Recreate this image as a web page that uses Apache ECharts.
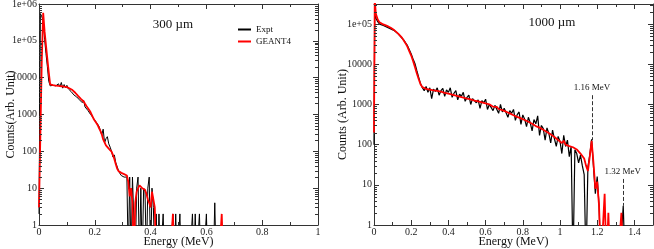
<!DOCTYPE html>
<html><head><meta charset="utf-8">
<script src="https://cdn.jsdelivr.net/npm/echarts@6/dist/echarts.min.js"></script>
<style>html,body{margin:0;padding:0;background:#fff}#c{width:654px;height:249px}</style>
</head><body><div id="c"></div>
<script>
// ---------- DATA ----------
// 300 um panel: channels every 0.005 MeV starting at 0 MeV (0 = empty channel)
const step300 = 0.005;
const expt300 = [
  2, 550000, 450000, 350000, 110000, 45000, 20000, 8000, 6000, 5800,
  6200, 5600, 6000, 5500, 6800, 5600, 7400, 5200, 6500, 5400,
  6200, 5000, 4800, 4200, 4000, 3400, 3600, 3000, 2900, 2500,
  2600, 2100, 2400, 1600, 1700, 1300, 1400, 1000, 1100, 800,
  900, 620, 700, 480, 520, 280, 400, 170, 220, 250,
  160, 130, 100, 70, 80, 50, 45, 30, 25, 22,
  22, 20, 21, 20, 0, 20, 0, 20, 20, 0,
  10, 20, 0, 10, 0, 10, 8, 0, 10, 20,
  0, 10, 3, 0, 2, 0, 2, 0, 0, 2,
  0, 0, 0, 0, 0, 0, 2, 0, 2, 0,
  0, 2, 0, 0, 0, 0, 0, 0, 0, 0,
  2, 0, 2, 0, 0, 2, 0, 0, 0, 0,
  2, 0, 0, 0, 0, 0, 4, 0, 0, 0,
  0, 0, 0
];
const geant300 = [
  3, 300, 30000, 580000, 180000, 76000, 32000, 14000, 6600, 6400,
  6300, 6200, 6100, 6000, 5950, 5900, 5850, 5800, 5700, 5650,
  5550, 5300, 5100, 4900, 4600, 4200, 3900, 3600, 3200, 2900,
  2650, 2450, 2250, 1950, 1700, 1500, 1320, 1150, 950, 780,
  680, 600, 520, 430, 360, 290, 210, 175, 145, 130,
  118, 108, 98, 80, 62, 45, 34, 29, 27, 26,
  25, 24, 23, 22, 15, 6, 10, 4, 0, 4,
  8, 9, 12, 11, 10, 10, 9, 7, 5, 4,
  3, 8, 8, 3, 0, 0, 0, 0, 0, 0,
  0, 0, 0, 0, 0, 0, 2, 0, 0, 0,
  0, 0, 0, 0, 0, 0, 0, 0, 0, 0,
  0, 0, 0, 0, 0, 0, 0, 0, 0, 0,
  0, 0, 0, 0, 0, 0, 0, 0, 0, 0,
  0, 2, 0
];
// 1000 um panel: first points near 0 MeV, then channels every 0.01 MeV from 0.01 MeV
const head1000Expt = [[0, 100], [0.004, 300000]];
const head1000Geant = [[0, 200], [0.004, 400000]];
const start1000 = 0.01, step1000 = 0.01;
const expt1000 = [
  140000, 115000, 100000, 95000, 92000, 88000, 84000, 82000, 76000, 72000,
  68000, 61000, 57000, 51000, 45000, 40000, 34000, 29000, 23000, 18000,
  13500, 10500, 7000, 4800, 3300, 2600, 2200, 2800, 2000, 2600,
  1400, 2400, 2100, 2600, 1700, 2200, 2500, 1600, 2300, 2000,
  2600, 1500, 1900, 2200, 1300, 1800, 1600, 2000, 1200, 1500,
  1700, 1000, 1400, 1550, 1100, 1300, 800, 1250, 1100, 1350,
  750, 1000, 1100, 700, 950, 900, 600, 1000, 650, 800,
  850, 480, 700, 600, 750, 400, 560, 650, 320, 550,
  430, 280, 480, 350, 220, 420, 330, 520, 170, 300,
  250, 130, 260, 190, 110, 230, 140, 90, 160, 120,
  60, 170, 90, 130, 50, 90, 0, 75, 60, 35,
  55, 30, 18, 0, 28, 55, 135, 28, 6, 16,
  3, 0, 0, 0, 0, 0, 0, 0, 0, 0,
  0, 0, 0, 3, 0
];
const geant1000 = [
  180000, 130000, 110000, 102000, 98000, 94000, 90000, 86000, 81000, 76000,
  70000, 64000, 58000, 52000, 46000, 39000, 33000, 27000, 21000, 16500,
  12000, 8500, 6000, 4300, 3200, 2700, 2500, 2450, 2400, 2350,
  2300, 2250, 2200, 2180, 2120, 2080, 2000, 1950, 1900, 1850,
  1800, 1750, 1720, 1650, 1620, 1560, 1520, 1480, 1450, 1400,
  1360, 1330, 1260, 1250, 1180, 1200, 1100, 1130, 1040, 1060,
  960, 1010, 920, 880, 850, 870, 770, 810, 720, 740,
  660, 690, 600, 610, 540, 570, 490, 520, 450, 470,
  410, 430, 370, 380, 330, 340, 290, 310, 265, 280,
  235, 245, 205, 215, 180, 190, 155, 165, 130, 140,
  110, 125, 100, 112, 92, 102, 86, 96, 76, 82,
  60, 66, 45, 30, 22, 50, 125, 35, 8, 12,
  3, 0, 0, 6, 0, 2, 0, 0, 0, 0,
  0, 0, 2, 0, 0
];
const peak116 = { label: '1.16 MeV', e: 1.172, top: 1700, bottom: 130 };
const peak132 = { label: '1.32 MeV', e: 1.338, top: 14, bottom: 3 };
const xTicksLeft = { min: 0, max: 1, interval: 0.2 };
const xTicksRight = { min: 0, max: 1.5, interval: 0.2 };
const yRangeLeft = { min: 1, max: 1e6 };
const yRangeRight = { min: 1, max: 316000 };

// ---------- BUILD ----------
const FLOOR = 0.1; // empty channel -> drawn below axis (clipped)
function pairs(head, start, step, counts) {
  const out = head.map(p => [p[0], p[1] > 0 ? p[1] : FLOOR]);
  counts.forEach((c, i) => out.push([+(start + i * step).toFixed(4), c > 0 ? c : FLOOR]));
  return out;
}
function minorVals(max) {
  const v = [];
  for (let k = 0; k < 7; k++) for (let m = 2; m <= 9; m++) { const x = m * Math.pow(10, k); if (x < max) v.push([0, x]); }
  return v;
}
const FONT = '"Liberation Serif", "DejaVu Serif", serif';
const AX = '#333';
function fmtLog(v) {
  const l = Math.log10(v), e = Math.round(l);
  if (Math.abs(l - e) > 1e-6) return '';
  return e >= 5 ? '1e+0' + e : String(Math.round(v));
}
function minorRender(params, api) {
  const cs = params.coordSys;
  const y = Math.round(api.coord([api.value(0), api.value(1)])[1]) + 0.5;
  const len = 3;
  return { type: 'group', children: [
    { type: 'line', shape: { x1: cs.x, y1: y, x2: cs.x + len, y2: y }, style: { stroke: AX, lineWidth: 1 } },
    { type: 'line', shape: { x1: cs.x + cs.width - len, y1: y, x2: cs.x + cs.width, y2: y }, style: { stroke: AX, lineWidth: 1 } }
  ]};
}
function xAxes(idx, r) {
  const base = { type: 'value', gridIndex: idx, min: r.min, max: r.max, interval: r.interval,
    axisLine: { show: true, onZero: false, lineStyle: { color: AX, width: 1 } },
    axisTick: { show: true, inside: true, length: 5, lineStyle: { color: AX } },
    minorTick: { show: true, splitNumber: 2, length: 3, lineStyle: { color: AX } },
    splitLine: { show: false } };
  return [
    Object.assign({}, base, { position: 'bottom', name: 'Energy (MeV)', nameLocation: 'middle', nameGap: 11,
      nameMoveOverlap: false,
      nameTextStyle: { fontFamily: FONT, fontSize: 12, color: '#111' },
      axisLabel: { show: true, margin: 2, fontFamily: FONT, fontSize: 10, color: '#222', showMaxLabel: r.max === 1 } }),
    Object.assign({}, base, { position: 'top', axisLabel: { show: false } })
  ];
}
function yAxes(idx, r, name, gap) {
  const base = { type: 'log', logBase: 10, gridIndex: idx, min: r.min, max: r.max, splitNumber: 6,
    axisLine: { show: true, onZero: false, lineStyle: { color: AX, width: 1 } },
    axisTick: { show: true, inside: true, length: 5, lineStyle: { color: AX } },
    splitLine: { show: false } };
  return [
    Object.assign({}, base, { position: 'left', name: name, nameLocation: 'middle', nameGap: gap,
      nameMoveOverlap: false,
      nameTextStyle: { fontFamily: FONT, fontSize: 12, color: '#111' },
      axisLabel: { show: true, margin: 2, fontFamily: FONT, fontSize: 10, color: '#222', formatter: fmtLog } }),
    Object.assign({}, base, { position: 'right', axisLabel: { show: false } })
  ];
}

const chart = echarts.init(document.getElementById('c'), null, { renderer: 'canvas' });
chart.setOption({
  animation: false,
  backgroundColor: '#fff',
  grid: [
    { left: 39, top: 4, width: 279, height: 221, containLabel: false, outerBoundsMode: 'none' },
    { left: 374, top: 4, width: 279, height: 221, containLabel: false, outerBoundsMode: 'none' }
  ],
  xAxis: [].concat(xAxes(0, xTicksLeft), xAxes(1, xTicksRight)),
  yAxis: [].concat(yAxes(0, yRangeLeft, 'Counts(Arb. Unit)', 22), yAxes(1, yRangeRight, 'Counts (Arb. Unit)', 25)),
  legend: { data: ['Expt', 'GEANT4'], orient: 'vertical', left: 233, top: 20, itemWidth: 13, itemHeight: 2,
    itemGap: 3, icon: 'rect', textStyle: { fontFamily: FONT, fontSize: 9, color: '#111' } },
  graphic: [
    { type: 'text', x: 173, y: 25, style: { text: '300 µm', font: '13px ' + FONT, fill: '#111', textAlign: 'center', textVerticalAlign: 'middle', align: 'center', verticalAlign: 'middle' } },
    { type: 'text', x: 552, y: 23, style: { text: '1000 µm', font: '13px ' + FONT, fill: '#111', textAlign: 'center', textVerticalAlign: 'middle', align: 'center', verticalAlign: 'middle' } }
  ],
  series: [
    { name: 'Expt', type: 'line', xAxisIndex: 0, yAxisIndex: 0, data: pairs([], 0, step300, expt300),
      showSymbol: false, symbol: 'none', color: '#000', lineStyle: { color: '#000', width: 1 }, clip: true, z: 2 },
    { name: 'GEANT4', type: 'line', xAxisIndex: 0, yAxisIndex: 0, data: pairs([], 0, step300, geant300),
      showSymbol: false, symbol: 'none', color: '#ff0000', lineStyle: { color: '#ff0000', width: 1.8 }, clip: true, z: 3 },
    { name: 'Expt', type: 'line', xAxisIndex: 2, yAxisIndex: 2, data: pairs(head1000Expt, start1000, step1000, expt1000),
      showSymbol: false, symbol: 'none', color: '#000', lineStyle: { color: '#000', width: 1.2 }, clip: true, z: 2,
      markLine: { silent: true, symbol: ['none', 'none'], lineStyle: { type: 'dashed', color: '#333', width: 1 },
        label: { show: true, position: 'start', distance: 3, fontFamily: FONT, fontSize: 9, color: '#111' },
        data: [
          [{ coord: [peak116.e, peak116.top], name: peak116.label, label: { formatter: peak116.label } }, { coord: [peak116.e, peak116.bottom] }],
          [{ coord: [peak132.e, peak132.top], name: peak132.label, label: { formatter: peak132.label } }, { coord: [peak132.e, peak132.bottom] }]
        ] } },
    { name: 'GEANT4', type: 'line', xAxisIndex: 2, yAxisIndex: 2, data: pairs(head1000Geant, start1000, step1000, geant1000),
      showSymbol: false, symbol: 'none', color: '#ff0000', lineStyle: { color: '#ff0000', width: 1.8 }, clip: true, z: 3 },
    { type: 'custom', xAxisIndex: 0, yAxisIndex: 0, data: minorVals(yRangeLeft.max), renderItem: minorRender, silent: true, z: 4 },
    { type: 'custom', xAxisIndex: 2, yAxisIndex: 2, data: minorVals(yRangeRight.max), renderItem: minorRender, silent: true, z: 4 }
  ]
});
</script></body></html>
